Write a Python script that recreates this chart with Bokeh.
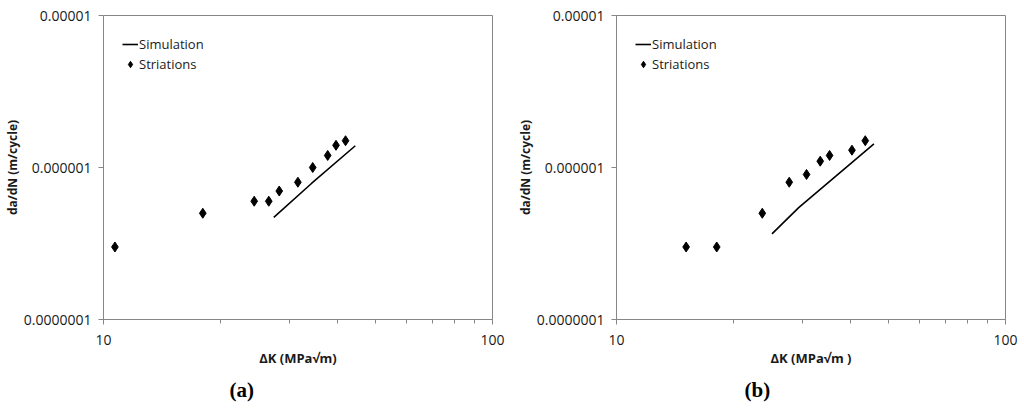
from bokeh.layouts import row
from bokeh.models import FixedTicker, Legend, LegendItem, Title
from bokeh.plotting import figure
from bokeh.embed import file_html
from bokeh.resources import INLINE

# panel (a)
sim_a_k = [27.4, 34.25, 44.4]
sim_a_rate = [4.7e-7, 7.85e-7, 1.39e-6]
str_a_k = [10.7, 18.0, 24.4, 26.6, 28.3, 31.6, 34.5, 37.7, 39.6, 41.9]
str_a_rate = [3.0e-7, 5.0e-7, 6.0e-7, 6.0e-7, 7.0e-7, 8.0e-7, 1.0e-6, 1.2e-6, 1.4e-6, 1.5e-6]

# panel (b)
sim_b_k = [25.1, 29.4, 45.9]
sim_b_rate = [3.66e-7, 5.45e-7, 1.43e-6]
str_b_k = [15.1, 18.1, 23.7, 27.8, 30.8, 33.4, 35.3, 40.3, 43.6]
str_b_rate = [3.0e-7, 3.0e-7, 5.0e-7, 8.0e-7, 9.0e-7, 1.1e-6, 1.2e-6, 1.3e-6, 1.5e-6]

y_ticks = [1e-7, 1e-6, 1e-5]
y_tick_labels = ["0.0000001", "0.000001", "0.00001"]
x_ticks = [10, 100]
x_tick_labels = ["10", "100"]
x_minor = [20, 30, 40, 50, 60, 70, 80, 90]

FONT = "Open Sans"
AXIS_GRAY = "#868686"


def panel(sim_k, sim_rate, str_k, str_rate, xlabel, caption, left, top, cap_offset):
    p = figure(x_axis_type="log", y_axis_type="log",
               x_range=(10, 100), y_range=(1e-7, 1e-5),
               frame_width=389, frame_height=304,
               min_border_left=left, min_border_right=512 - 389 - left,
               min_border_top=top, min_border_bottom=411 - 304 - top,
               output_backend="svg", toolbar_location=None)
    p.grid.visible = False
    p.outline_line_color = AXIS_GRAY
    p.background_fill_color = "white"
    p.border_fill_color = "white"

    sim = p.line(sim_k, sim_rate, line_color="black", line_width=1.6)
    pts = p.scatter(str_k, str_rate, marker="diamond", size=10,
                    fill_color="black", line_color="black")

    p.xaxis.ticker = FixedTicker(ticks=x_ticks, minor_ticks=x_minor)
    p.xaxis.major_label_overrides = dict(zip(x_ticks, x_tick_labels))
    p.yaxis.ticker = FixedTicker(ticks=y_ticks, minor_ticks=[])
    p.yaxis.major_label_overrides = dict(zip(y_ticks, y_tick_labels))

    for ax in (p.xaxis, p.yaxis):
        ax.axis_line_color = AXIS_GRAY
        ax.major_tick_line_color = AXIS_GRAY
        ax.minor_tick_line_color = AXIS_GRAY
        ax.major_tick_in = 0
        ax.major_tick_out = 5
        ax.minor_tick_in = 0
        ax.minor_tick_out = 4
        ax.major_label_text_font = FONT
        ax.major_label_text_font_size = "14px"
        ax.major_label_text_color = "#1a1a1a"
        ax.axis_label_text_font = FONT
        ax.axis_label_text_font_style = "bold"
        ax.axis_label_text_color = "#1a1a1a"

    p.xaxis.major_label_standoff = 10
    p.xaxis.axis_label = xlabel
    p.xaxis.axis_label_text_font_size = "13px"
    p.xaxis.axis_label_standoff = 1
    p.yaxis.major_label_standoff = 7
    p.yaxis.axis_label = "da/dN (m/cycle)"
    p.yaxis.axis_label_text_font_size = "12px"
    p.yaxis.axis_label_standoff = 0

    legend = Legend(items=[LegendItem(label="Simulation", renderers=[sim]),
                           LegendItem(label="Striations", renderers=[pts])],
                    location="top_left", margin=11, padding=8, spacing=0,
                    glyph_width=16, glyph_height=20, label_height=20,
                    label_standoff=1, label_text_font=FONT,
                    label_text_font_size="13px", label_text_color="#1a1a1a",
                    border_line_alpha=0, background_fill_alpha=0)
    p.add_layout(legend)

    p.add_layout(Title(text=caption, align="left", offset=cap_offset, standoff=13,
                       text_font="Liberation Serif", text_font_style="bold",
                       text_font_size="21px", text_color="black"), "below")
    return p


pa = panel(sim_a_k, sim_a_rate, str_a_k, str_a_rate, "ΔK (MPa√m)", "(a)", 102, 12, 126)
pb = panel(sim_b_k, sim_b_rate, str_b_k, str_b_rate, "ΔK (MPa√m )", "(b)", 101, 15, 128)

layout = row(pa, pb)
open("out.html", "w").write(file_html(layout, INLINE))
